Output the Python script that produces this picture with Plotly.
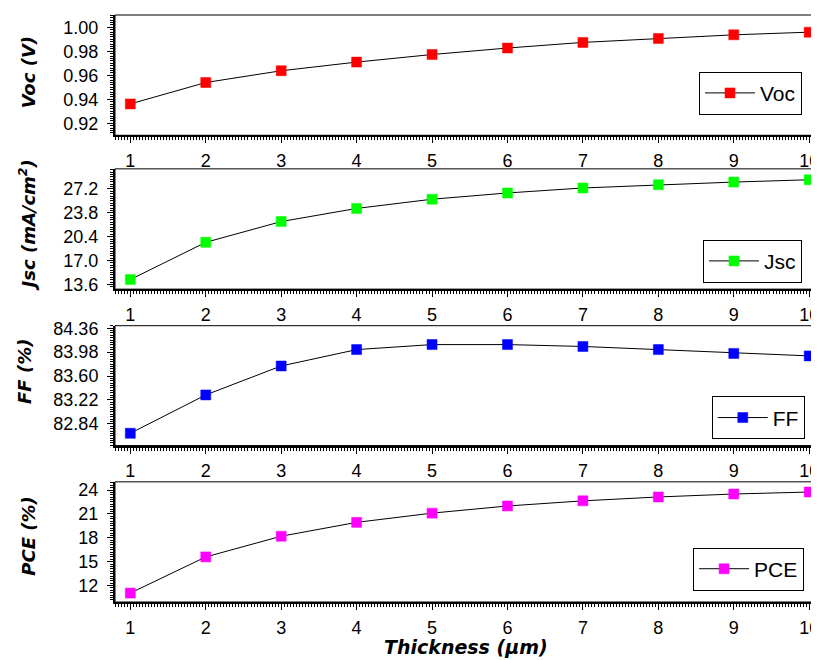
import plotly.graph_objects as go

# ---- data ----
thickness = [1, 2, 3, 4, 5, 6, 7, 8, 9, 10]
voc = [0.9362, 0.9540, 0.9638, 0.9710, 0.9773, 0.9827, 0.9874, 0.9907, 0.9937, 0.9959]
jsc = [14.3, 19.6, 22.55, 24.42, 25.73, 26.62, 27.33, 27.80, 28.17, 28.50]
ff = [82.69, 83.30, 83.76, 84.02, 84.10, 84.10, 84.07, 84.02, 83.96, 83.92]
pce = [11.06, 15.6, 18.2, 19.94, 21.1, 22.0, 22.64, 23.13, 23.5, 23.75]

series_names = ["Voc", "Jsc", "FF", "PCE"]
y_titles = ["Voc (V)", "Jsc (mA/cm<sup>2</sup>)", "FF (%)", "PCE (%)"]
voc_ticks = [0.92, 0.94, 0.96, 0.98, 1.00]
jsc_ticks = [13.6, 17.0, 20.4, 23.8, 27.2]
ff_ticks = [82.84, 83.22, 83.60, 83.98, 84.36]
pce_ticks = [12, 15, 18, 21, 24]
x_ticks = [1, 2, 3, 4, 5, 6, 7, 8, 9, 10]

# ---- styling / layout ----
colors = ["#FF0000", "#00FF00", "#0000FF", "#FF00FF"]
values = [voc, jsc, ff, pce]
ticks = [voc_ticks, jsc_ticks, ff_ticks, pce_ticks]
tick_fmt = [".2f", ".1f", ".2f", "d"]
minor_dt = [0.002, 0.34, 0.038, 0.3]
y_ranges = [[0.9101, 1.0102], [12.94, 30.05], [82.495, 84.40], [9.94, 25.03]]
domains = [[0.7951, 1.0], [0.5330, 0.7379], [0.2665, 0.4707], [0.0, 0.2047]]
legend_pos = [(0.980, 0.8667), (0.980, 0.5805), (0.984, 0.3136), (0.983, 0.0561)]
title_pos = [(-0.1223, 0.9029), (-0.1252, 0.6419), (-0.1294, 0.3924), (-0.1238, 0.1116)]

tick_font = dict(family="Liberation Sans, Arial, sans-serif", size=18, color="black")
title_font = dict(family="DejaVu Sans, sans-serif", size=18, color="black")

fig = go.Figure()
# the page body adds an 8px offset, so the figure is 8px smaller on each axis
layout = dict(
    width=811, height=652,
    margin=dict(l=107, r=1, t=0, b=58),
    paper_bgcolor="white", plot_bgcolor="white",
    showlegend=True,
    annotations=[], shapes=[],
)

for i in range(4):
    n = "" if i == 0 else str(i + 1)
    xa, ya = "x" + n, "y" + n
    leg = "legend" + n
    fig.add_trace(go.Scatter(
        x=thickness, y=values[i], mode="lines+markers", name=series_names[i],
        xaxis=xa, yaxis=ya, legend=leg,
        line=dict(color="black", width=1),
        marker=dict(symbol="square", size=10, color=colors[i],
                    line=dict(color=colors[i], width=0.5)),
    ))
    layout["xaxis" + n] = dict(
        domain=[0, 1], anchor=ya, range=[0.797, 10.09],
        tickmode="array", tickvals=x_ticks, ticks="outside", ticklen=6, tickwidth=1,
        tickcolor="black", showline=True, linewidth=2, linecolor="black",
        showgrid=False, zeroline=False, tickfont=tick_font, ticklabelstandoff=2,
        ticklabeloverflow="allow",
        minor=dict(dtick=0.04, tick0=0, ticks="outside", ticklen=3, tickwidth=1,
                   tickcolor="black", showgrid=False),
    )
    layout["yaxis" + n] = dict(
        domain=domains[i], anchor=xa, range=y_ranges[i],
        tickmode="array", tickvals=ticks[i], tickformat=tick_fmt[i],
        ticks="outside", ticklen=6, tickwidth=1, tickcolor="black",
        showline=True, linewidth=2, linecolor="black",
        showgrid=False, zeroline=False, tickfont=tick_font, ticklabelstandoff=5,
        minor=dict(dtick=minor_dt[i], tick0=ticks[i][0], ticks="outside", ticklen=3,
                   tickwidth=1, tickcolor="black", showgrid=False),
    )
    lx, ly = legend_pos[i]
    layout[leg] = dict(
        x=lx, y=ly, xanchor="right", yanchor="middle",
        bgcolor="white", bordercolor="black", borderwidth=1,
        font=dict(family="Liberation Sans, Arial, sans-serif", size=21, color="black"),
        itemwidth=50,
    )
    layout["shapes"].append(dict(
        type="rect", xref=xa + " domain", yref=ya + " domain",
        x0=0, x1=1, y0=0, y1=1, line=dict(color="black", width=1), layer="below",
    ))
    tx, ty = title_pos[i]
    layout["annotations"].append(dict(
        text="<b><i>" + y_titles[i] + "</i></b>", xref="paper", yref="paper",
        x=tx, y=ty, xanchor="center", yanchor="middle", textangle=-90,
        showarrow=False, font=title_font,
    ))

layout["annotations"].append(dict(
    text="<b><i>Thickness (μm)</i></b>", xref="paper", yref="paper",
    x=0.5007, y=-0.0769, xanchor="center", yanchor="middle",
    showarrow=False, font=dict(family="DejaVu Sans, sans-serif", size=19, color="black"),
))

fig.update_layout(**layout)
fig.write_html("out.html")
